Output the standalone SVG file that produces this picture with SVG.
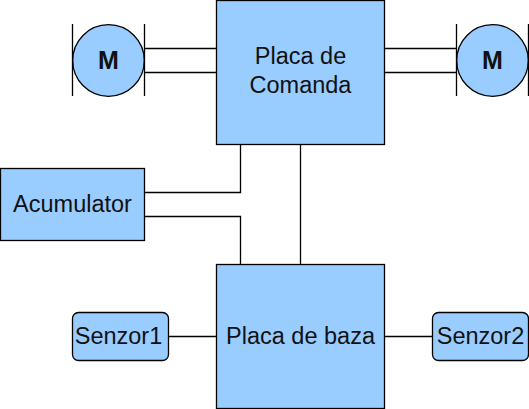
<svg xmlns="http://www.w3.org/2000/svg" width="529" height="409" viewBox="0 0 529 409">
<style>
.box{fill:#99ccff;stroke:#000;stroke-width:1.3}
.ln{fill:none;stroke:#000;stroke-width:1.3}
.t{font-family:"Liberation Sans",Arial,sans-serif;font-size:23.5px;fill:#111;text-anchor:middle}
.m{font-family:"Liberation Sans",Arial,sans-serif;font-size:25px;font-weight:bold;fill:#111;text-anchor:middle}
</style>
<rect width="529" height="409" fill="#fff"/>
<g id="connectors">
<path class="ln" d="M144.5 48.5H216.5M144.5 72.5H216.5"/>
<path class="ln" d="M384.5 48.5H456.5M384.5 72.5H456.5"/>
<path class="ln" d="M144.5 192.5H240.5V144.5"/>
<path class="ln" d="M144.5 216.5H240.5V264.5"/>
<path class="ln" d="M300.5 144.5V264.5"/>
<path class="ln" d="M168.5 336.5H216.5"/>
<path class="ln" d="M384.5 336.5H432.5"/>
</g>
<g id="motor1">
<circle class="box" cx="108.5" cy="60.5" r="35.8"/>
<path class="ln" d="M72.5 24V96M144.5 24V96"/>
<text class="m" x="108.5" y="68.5">M</text>
</g>
<g id="motor2">
<circle class="box" cx="492.5" cy="60.5" r="35.8"/>
<path class="ln" d="M456.5 24V96M528.5 24V96"/>
<text class="m" x="492.5" y="68.5">M</text>
</g>
<g id="placa-comanda">
<rect class="box" x="216.5" y="0.5" width="168" height="144"/>
<text class="t" x="300.5" y="64.3">Placa de</text>
<text class="t" x="300.5" y="93.3">Comanda</text>
</g>
<g id="acumulator">
<rect class="box" x="0.5" y="168.5" width="144" height="72"/>
<text class="t" x="72.5" y="212">Acumulator</text>
</g>
<g id="placa-baza">
<rect class="box" x="216.5" y="264.5" width="168" height="144"/>
<text class="t" x="300.5" y="344">Placa de baza</text>
</g>
<g id="senzor1">
<rect class="box" x="72.5" y="312.5" width="96" height="48" rx="6"/>
<text class="t" x="118.5" y="344">Senzor1</text>
</g>
<g id="senzor2">
<rect class="box" x="432.5" y="312.5" width="96" height="48" rx="6"/>
<text class="t" x="480.5" y="344">Senzor2</text>
</g>
</svg>
